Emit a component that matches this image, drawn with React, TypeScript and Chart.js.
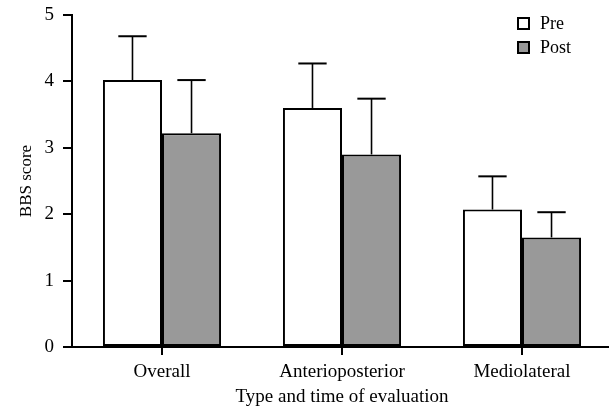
import React, { useEffect, useRef } from "react";
import { Chart, registerables } from "chart.js";

Chart.register(...registerables);

const categories = ["Overall", "Anterioposterior", "Mediolateral"];
const seriesNames = ["Pre", "Post"];
const preValues = [4.02, 3.6, 2.07];
const preErrors = [0.66, 0.67, 0.5];
const postValues = [3.22, 2.9, 1.65];
const postErrors = [0.8, 0.84, 0.38];
const yTicks = [0, 1, 2, 3, 4, 5];

const FONT = "'Liberation Serif', 'Times New Roman', serif";
const fills = ["#ffffff", "#999999"];
const errors = [preErrors, postErrors];

const errorBarPlugin = {
  id: "errorBars",
  afterDatasetsDraw(chart: any) {
    const ctx = chart.ctx;
    const yScale = chart.scales.y;
    ctx.save();
    ctx.strokeStyle = "#000";
    chart.data.datasets.forEach((ds: any, di: number) => {
      const meta = chart.getDatasetMeta(di);
      meta.data.forEach((bar: any, i: number) => {
        const v = ds.data[i];
        const e = errors[di][i];
        const yTop = yScale.getPixelForValue(v + e);
        const yBar = yScale.getPixelForValue(v);
        const x = bar.x;
        const half = bar.width * 0.24;
        ctx.lineWidth = 1.6;
        ctx.beginPath();
        ctx.moveTo(x, yBar);
        ctx.lineTo(x, yTop);
        ctx.stroke();
        ctx.lineWidth = 2;
        ctx.beginPath();
        ctx.moveTo(x - half, yTop);
        ctx.lineTo(x + half, yTop);
        ctx.stroke();
      });
    });
    ctx.restore();
  },
};

const legendPlugin = {
  id: "customLegend",
  afterDraw(chart: any) {
    const ctx = chart.ctx;
    const area = chart.chartArea;
    const x0 = area.right - 94;
    const y0 = area.top + 3;
    ctx.save();
    ctx.font = `18px ${FONT}`;
    ctx.textBaseline = "middle";
    ctx.fillStyle = "#000";
    seriesNames.forEach((name, i) => {
      const y = y0 + i * 24;
      ctx.fillStyle = fills[i];
      ctx.fillRect(x0, y, 11, 11);
      ctx.lineWidth = 2;
      ctx.strokeStyle = "#000";
      ctx.strokeRect(x0, y, 11, 11);
      ctx.fillStyle = "#000";
      ctx.fillText(name, x0 + 22, y + 6);
    });
    ctx.restore();
  },
};

export default function App() {
  const ref = useRef<HTMLCanvasElement>(null);
  useEffect(() => {
    if (!ref.current) return;
    const chart = new Chart(ref.current, {
      type: "bar",
      data: {
        labels: categories,
        datasets: [
          {
            label: seriesNames[0],
            data: preValues,
            backgroundColor: fills[0],
            borderColor: "#000",
            borderWidth: 2,
            borderSkipped: false,
          },
          {
            label: seriesNames[1],
            data: postValues,
            backgroundColor: fills[1],
            borderColor: "#000",
            borderWidth: 2,
            borderSkipped: false,
          },
        ],
      },
      options: {
        animation: false,
        responsive: false,
        devicePixelRatio: 1,
        layout: { padding: { left: 0, right: 18, top: 15, bottom: 0 } },
        datasets: { bar: { categoryPercentage: 0.656, barPercentage: 1 } },
        plugins: {
          legend: { display: false },
          tooltip: { enabled: false },
        },
        scales: {
          x: {
            offset: true,
            grid: {
              offset: false,
              drawOnChartArea: false,
              drawTicks: true,
              tickLength: 8,
              color: "#000",
              lineWidth: 2,
            },
            border: { display: true, color: "#000", width: 2 },
            ticks: {
              color: "#000",
              font: { family: FONT, size: 19 },
              padding: 6,
              maxRotation: 0,
            },
            title: {
              display: true,
              text: "Type and time of evaluation",
              color: "#000",
              font: { family: FONT, size: 19 },
              padding: { top: 4, bottom: 7 },
            },
            afterFit(scale: any) {
              scale.height = 68;
              scale.paddingLeft = 0;
              scale.paddingRight = 0;
            },
          },
          y: {
            min: 0,
            max: 5,
            afterBuildTicks(scale: any) {
              scale.ticks = yTicks.map((v) => ({ value: v }));
            },
            grid: {
              drawOnChartArea: false,
              drawTicks: true,
              tickLength: 9,
              color: "#000",
              lineWidth: 2,
            },
            border: { display: true, color: "#000", width: 2 },
            ticks: {
              color: "#000",
              font: { family: FONT, size: 19 },
              padding: 9,
            },
            title: {
              display: true,
              text: "BBS score",
              color: "#000",
              font: { family: FONT, size: 17 },
              padding: { top: 16, bottom: 0 },
            },
            afterFit(scale: any) {
              scale.width = 72;
              scale.paddingTop = 0;
              scale.paddingBottom = 0;
            },
          },
        },
      },
      plugins: [errorBarPlugin, legendPlugin],
    });
    return () => chart.destroy();
  }, []);

  return (
    <div
      style={{
        position: "absolute",
        left: 0,
        top: 0,
        width: 609,
        height: 415,
        overflow: "hidden",
        background: "#fff",
      }}
    >
      <canvas ref={ref} width={630} height={415} style={{ width: 630, height: 415, display: "block" }} />
    </div>
  );
}
